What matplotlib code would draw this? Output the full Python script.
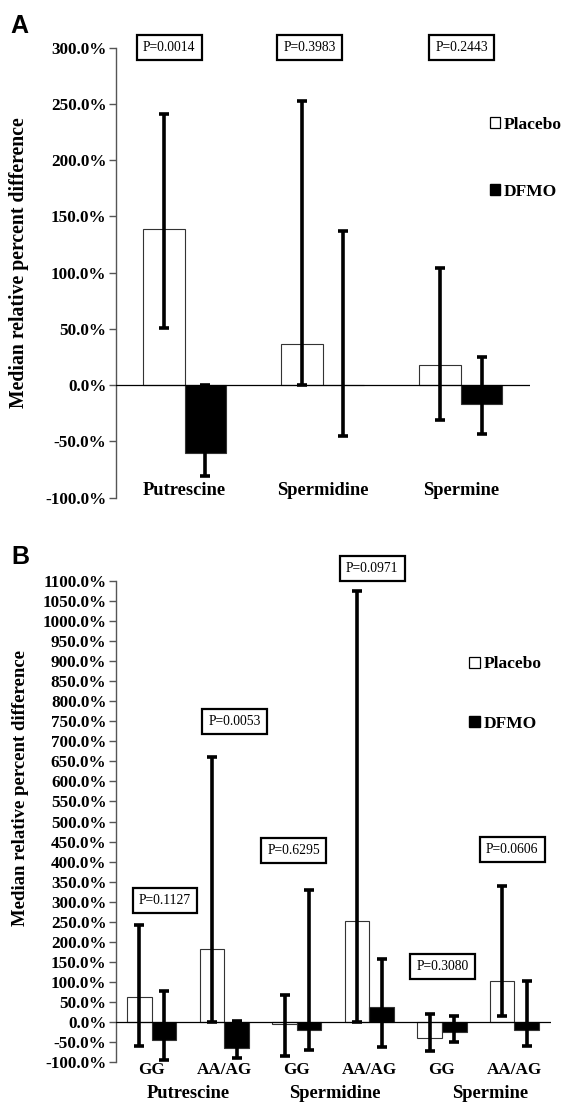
import matplotlib
matplotlib.use("Agg")
import matplotlib.pyplot as plt
from matplotlib.patches import Patch
import numpy as np

# ---------------- Data ----------------
categories_a = ["Putrescine", "Spermidine", "Spermine"]
placebo_a = [139, 37, 18]
placebo_a_low = [51, 0, -31]
placebo_a_high = [241, 253, 104]
dfmo_a = [-60, 0, -17]
dfmo_a_low = [-81, -45, -43]
dfmo_a_high = [0.5, 137, 25]
pvals_a = ["P=0.0014", "P=0.3983", "P=0.2443"]
pval_a_x = [-0.11, 0.905, 2.005]
pval_a_y = [300, 300, 300]

subgroups_b = ["GG", "AA/AG", "GG", "AA/AG", "GG", "AA/AG"]
groups_b = ["Putrescine", "Spermidine", "Spermine"]
group_b_x = [0.5, 2.53, 4.67]
placebo_b = [63, 182, -5, 253, -39, 101]
placebo_b_low = [-61, 0, -85, 0, -72, 16]
placebo_b_high = [242, 662, 67, 1074, 20, 340]
dfmo_b = [-45, -64, -21, 36, -24, -20]
dfmo_b_low = [-94, -91, -71, -63, -51, -60]
dfmo_b_high = [76, 2, 330, 156, 16, 103]
pvals_b = ["P=0.1127", "P=0.0053", "P=0.6295", "P=0.0971", "P=0.3080", "P=0.0606"]
pval_b_x = [0.18, 1.14, 1.96, 3.04, 4.01, 4.97]
pval_b_y = [302, 750, 428, 1132, 138, 431]

series_labels = ["Placebo", "DFMO"]
yticks_a = np.arange(-100, 301, 50)
yticks_b = np.arange(-100, 1101, 50)

# ---------------- Style ----------------
SERIF = ["Liberation Serif", "DejaVu Serif"]
SANS = ["Liberation Sans", "DejaVu Sans"]
W, H = 562, 1104
fig = plt.figure(figsize=(W / 100, H / 100), dpi=100)

def px_axes(left, right, top, bottom):
    return fig.add_axes([left / W, 1 - bottom / H, (right - left) / W, (bottom - top) / H])

def style_axis(ax, ylim, yticks):
    ax.set_ylim(*ylim)
    for s in ("top", "right", "bottom"):
        ax.spines[s].set_visible(False)
    ax.spines["left"].set_color("#555555")
    ax.spines["left"].set_linewidth(1.0)
    ax.set_yticks(yticks)
    ax.set_yticklabels([f"{v:.1f}%" for v in yticks], fontfamily=SERIF,
                       fontweight="bold", fontsize=12.3)
    ax.tick_params(axis="y", direction="out", length=5, width=1.0,
                   color="#555555", pad=1.5)
    ax.tick_params(axis="x", length=0)
    ax.set_xticks([])
    ax.axhline(0, color="black", lw=0.9, zorder=3)

def draw_bars(ax, x, vals, lows, highs, width, face):
    vals = np.asarray(vals, float)
    err = [vals - np.asarray(lows, float), np.asarray(highs, float) - vals]
    ax.bar(x, vals, width=width, color=face, edgecolor="#333333", linewidth=0.8, zorder=2)
    ax.errorbar(x, vals, yerr=err, fmt="none", ecolor="black", elinewidth=2.6,
                capsize=3.8, capthick=2.6, zorder=4)

def pbox(ax, x, y, s):
    ax.text(x, y, s, ha="center", va="center", fontsize=9.8, fontfamily=SERIF,
            bbox=dict(boxstyle="square,pad=0.45", facecolor="white",
                      edgecolor="black", linewidth=1.6), zorder=5, clip_on=False)

def legend(ax, x, y, spacing):
    handles = [Patch(facecolor="white", edgecolor="black", linewidth=0.9),
               Patch(facecolor="black", edgecolor="black")]
    ax.legend(handles, series_labels, loc="center left", bbox_to_anchor=(x, y),
              frameon=False, borderpad=0, borderaxespad=0, handlelength=0.6,
              handleheight=0.6, handletextpad=0.2, labelspacing=spacing,
              prop=dict(family=SERIF, weight="bold", size=12.5))

# ---------------- Panel A ----------------
axA = px_axes(115.5, 530, 47.7, 497.7)
xa = np.arange(len(categories_a))
wa = 0.30
draw_bars(axA, xa - wa / 2, placebo_a, placebo_a_low, placebo_a_high, wa, "white")
draw_bars(axA, xa + wa / 2, dfmo_a, dfmo_a_low, dfmo_a_high, wa, "black")
axA.set_xlim(-0.5, 2.5)
style_axis(axA, (-100, 300), yticks_a)
for xi, name in zip(xa, categories_a):
    axA.text(xi, -94, name, ha="center", va="center", fontsize=13.3,
             fontfamily=SERIF, fontweight="bold")
for xi, yi, s in zip(pval_a_x, pval_a_y, pvals_a):
    pbox(axA, xi, yi, s)
axA.set_ylabel("Median relative percent difference", fontfamily=SERIF,
               fontweight="bold", fontsize=14.2)
axA.yaxis.set_label_coords(-0.209, 0.523)
legend(axA, 0.9035, 0.754, 2.95)

# ---------------- Panel B ----------------
axB = px_axes(115.5, 550.7, 581, 1062)
xb = np.arange(len(subgroups_b))
wb = 0.34
draw_bars(axB, xb - wb / 2, placebo_b, placebo_b_low, placebo_b_high, wb, "white")
draw_bars(axB, xb + wb / 2, dfmo_b, dfmo_b_low, dfmo_b_high, wb, "black")
axB.set_xlim(-0.5, 5.5)
style_axis(axB, (-100, 1100), yticks_b)
for xi, name in zip(xb, subgroups_b):
    axB.text(xi, -0.0166, name, ha="center", va="center", fontsize=12.3,
             fontfamily=SERIF, fontweight="bold",
             transform=axB.get_xaxis_transform())
for xi, name in zip(group_b_x, groups_b):
    axB.text(xi, -0.065, name, ha="center", va="center", fontsize=13.3,
             fontfamily=SERIF, fontweight="bold",
             transform=axB.get_xaxis_transform())
for xi, yi, s in zip(pval_b_x, pval_b_y, pvals_b):
    pbox(axB, xi, yi, s)
axB.set_ylabel("Median relative percent difference", fontfamily=SERIF,
               fontweight="bold", fontsize=13.5)
axB.yaxis.set_label_coords(-0.1995, 0.570)
legend(axB, 0.813, 0.765, 2.5)

# Panel letters
fig.text(10 / W, 1 - 33 / H, "A", fontfamily=SANS, fontweight="bold", fontsize=18,
         ha="left", va="baseline")
fig.text(11 / W, 1 - 564 / H, "B", fontfamily=SANS, fontweight="bold", fontsize=18,
         ha="left", va="baseline")

fig.savefig("out.png", dpi=100, facecolor="white")
